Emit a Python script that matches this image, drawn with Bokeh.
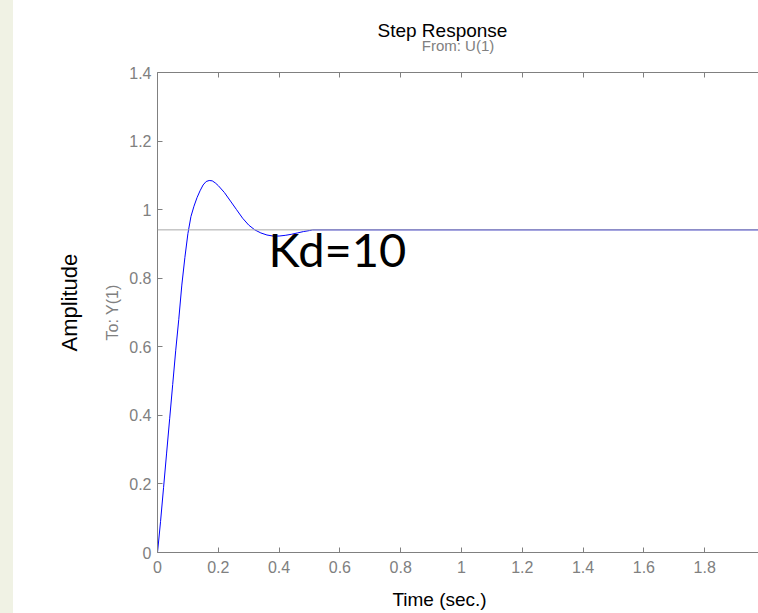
from bokeh.plotting import figure
from bokeh.models import LinearAxis, FixedTicker, Range1d, Span, Title, Div
from bokeh.layouts import row
from bokeh.core.properties import value
from bokeh.embed import file_html
from bokeh.resources import INLINE

# ---- data ----
time_s = [0.0, 0.01, 0.02, 0.03, 0.04, 0.05, 0.06, 0.07, 0.08, 0.09, 0.10, 0.11,
          0.12, 0.13, 0.14, 0.15, 0.16, 0.17, 0.18, 0.19, 0.20, 0.22, 0.24, 0.26,
          0.28, 0.30, 0.32, 0.34, 0.36, 0.38, 0.40, 0.42, 0.44, 0.46, 0.48, 0.50,
          0.51, 2.0]
amplitude = [0.0, 0.09, 0.19, 0.29, 0.39, 0.49, 0.59, 0.68, 0.78, 0.86, 0.93, 0.98,
             1.01, 1.035, 1.055, 1.072, 1.082, 1.085, 1.084, 1.078, 1.07, 1.05, 1.025, 1.0,
             0.975, 0.955, 0.941, 0.932, 0.926, 0.923, 0.923, 0.925, 0.928, 0.932, 0.936, 0.939,
             0.941, 0.941]
steady_state = 0.941

x_ticks = [0, 0.2, 0.4, 0.6, 0.8, 1.0, 1.2, 1.4, 1.6, 1.8, 2.0]
x_tick_labels = ["0", "0.2", "0.4", "0.6", "0.8", "1", "1.2", "1.4", "1.6", "1.8", "2"]
y_ticks = [0, 0.2, 0.4, 0.6, 0.8, 1.0, 1.2, 1.4]
y_tick_labels = ["0", "0.2", "0.4", "0.6", "0.8", "1", "1.2", "1.4"]

title_text = "Step Response"
input_text = "From: U(1)"
output_text = "To: Y(1)"
x_label = "Time (sec.)"
y_label = "Amplitude"
note_text = "Kd=10"

# ---- layout (page pixels) ----
STRIP = 13
W, H = 758 - STRIP, 613
FRAME_L, FRAME_R, FRAME_T, FRAME_B = 157, 758, 72, 552
X_PER_UNIT = 304.0
Y_MAX = 1.4
Y_PER_UNIT = (FRAME_B - FRAME_T) / Y_MAX
x_end = (FRAME_R - FRAME_L) / X_PER_UNIT

def dx(px):
    return (px - FRAME_L) / X_PER_UNIT

def dy(py):
    return (FRAME_B - py) / Y_PER_UNIT

GREY = "#808080"
FONT = "Liberation Sans"
NBSP = "\u00a0"

p = figure(width=W, height=H, x_range=Range1d(0, x_end), y_range=Range1d(0, Y_MAX),
           output_backend="svg", toolbar_location=None,
           min_border_left=FRAME_L - STRIP, min_border_right=0,
           min_border_top=FRAME_T, min_border_bottom=H - FRAME_B)
p.outline_line_color = None
p.background_fill_color = "white"
p.border_fill_color = "white"
p.xgrid.visible = False
p.ygrid.visible = False

def style_axis(ax, ticks, labels, standoff, show_labels=True):
    ax.ticker = FixedTicker(ticks=ticks)
    ax.major_label_overrides = {t: l for t, l in zip(ticks, labels)}
    ax.axis_line_color = GREY
    ax.major_tick_line_color = GREY
    ax.major_tick_in = 5
    ax.major_tick_out = 0
    ax.minor_tick_line_color = None
    ax.major_label_text_font = FONT
    ax.major_label_text_font_size = "16px" if show_labels else "0px"
    ax.major_label_text_color = GREY if show_labels else None
    ax.major_label_standoff = standoff

style_axis(p.xaxis[0], x_ticks, x_tick_labels, 8)
style_axis(p.yaxis[0], y_ticks, y_tick_labels, 6)

# x axis label (padded so that it sits left of the frame centre as in the reference)
p.xaxis[0].axis_label = x_label + NBSP * 7
p.xaxis[0].axis_label_text_font = FONT
p.xaxis[0].axis_label_text_font_size = "19px"
p.xaxis[0].axis_label_text_font_style = "normal"
p.xaxis[0].axis_label_text_color = "black"
p.xaxis[0].axis_label_standoff = 13

# y axis label -> "To: Y(1)"
p.yaxis[0].axis_label = output_text
p.yaxis[0].axis_label_text_font = FONT
p.yaxis[0].axis_label_text_font_size = "16px"
p.yaxis[0].axis_label_text_font_style = "normal"
p.yaxis[0].axis_label_text_color = GREY
p.yaxis[0].axis_label_standoff = 5

# top box axis with "From: U(1)"
top_axis = LinearAxis()
style_axis(top_axis, x_ticks, x_tick_labels, 0, show_labels=False)
top_axis.axis_label = input_text
top_axis.axis_label_text_font = FONT
top_axis.axis_label_text_font_size = "15px"
top_axis.axis_label_text_font_style = "normal"
top_axis.axis_label_text_color = GREY
top_axis.axis_label_standoff = 19
p.add_layout(top_axis, "above")

# main title
p.title = Title(text=title_text, align="left", offset=377 - FRAME_L,
                text_font=FONT, text_font_size="19px", text_font_style="normal",
                text_color="black", standoff=-14)

# y label as a title on the left
p.add_layout(Title(text=y_label, align="left", offset=FRAME_B - 351,
                   text_font=FONT, text_font_size="22px", text_font_style="normal",
                   text_color="black", standoff=40), "left")

p.add_layout(Span(location=steady_state, dimension="width", line_color="#a8a8a8", line_width=1))
p.line(time_s, amplitude, line_color="#0000ff", line_width=1)

p.text(x=[dx(268)], y=[dy(248)], text=[note_text], text_font=value("Lato"),
       text_font_size="47px", text_color="black", text_baseline="alphabetic",
       text_align="left")

strip = Div(text="", width=STRIP, height=H,
            styles={"background-color": "#f0f2e4", "margin": "0", "padding": "0"})
layout = row(strip, p, spacing=0)

open("out.html", "w").write(file_html(layout, INLINE))
